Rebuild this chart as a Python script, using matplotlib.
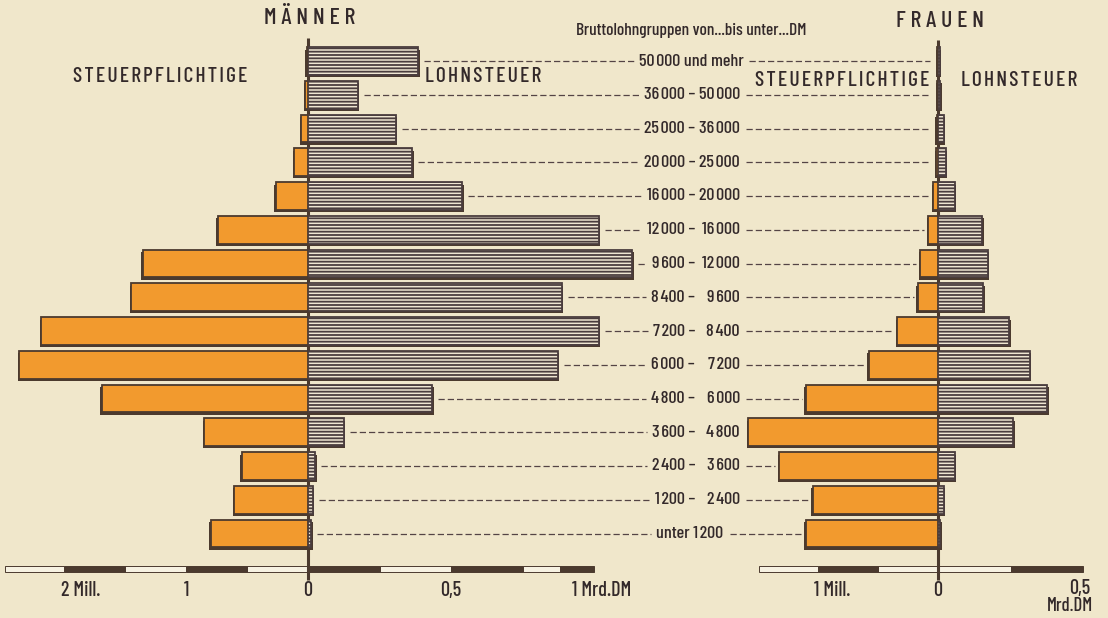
import numpy as np
import matplotlib
matplotlib.use("Agg")
import matplotlib.pyplot as plt
from matplotlib.patches import Rectangle

W, H = 1108, 618

plt.rcParams['font.family'] = ['Barlow Condensed', 'DejaVu Sans']
plt.rcParams['font.weight'] = 500
plt.rcParams['hatch.linewidth'] = 1.3

# Bruttolohngruppen (von / bis unter, DM)
lower = [50000, 36000, 25000, 20000, 16000, 12000, 9600, 8400, 7200, 6000, 4800, 3600, 2400, 1200, None]
upper = [None, 50000, 36000, 25000, 20000, 16000, 12000, 9600, 8400, 7200, 6000, 4800, 3600, 2400, 1200]

# Männer: Steuerpflichtige (Mill.), Lohnsteuer (Mrd. DM)
men_pers = [0.01, 0.025, 0.056, 0.114, 0.264, 0.739, 1.355, 1.449, 2.188, 2.367, 1.692, 0.850, 0.545, 0.607, 0.798]
men_tax = [0.385, 0.175, 0.306, 0.364, 0.54, 1.017, 1.134, 0.888, 1.017, 0.873, 0.435, 0.126, 0.025, 0.016, 0.012]
# Frauen
wom_pers = [0.006, 0.008, 0.012, 0.014, 0.038, 0.082, 0.146, 0.169, 0.338, 0.577, 1.102, 1.583, 1.321, 1.044, 1.102]
wom_tax = [0.006, 0.008, 0.02, 0.027, 0.057, 0.153, 0.171, 0.156, 0.246, 0.316, 0.377, 0.26, 0.057, 0.02, 0.008]

bg = '#f0e7cb'
orange = '#f29a2e'
dark = '#4b3a2e'
txt = '#33292a'
hatchface = '#efe6d2'
light = '#f7f2e2'

fig = plt.figure(figsize=(W / 100, H / 100), dpi=100, facecolor=bg)
base = fig.add_axes([0, 0, 1, 1])
base.set_xlim(0, W)
base.set_ylim(H, 0)
base.axis('off')

row_top, row_step = 61, 33.75
n = len(lower)
y_top = row_top - row_step / 2
y_bot = row_top + row_step * (n - 1) + row_step / 2


def add_ax(x0, x1):
    ax = fig.add_axes([x0 / W, 1 - y_bot / H, (x1 - x0) / W, (y_bot - y_top) / H])
    ax.set_ylim(n - 0.5, -0.5)
    ax.axis('off')
    ax.patch.set_alpha(0)
    return ax


def to_base(ax, x, y):
    d = ax.transData.transform((x, y))
    return base.transData.inverted().transform(d)


# px per unit
m_mill, m_mrd = 122, 286
w_mill, w_mrd = 120, 290
m0, w0 = 308, 938

ax_ml = add_ax(m0 - 2.6 * m_mill, m0)
ax_ml.set_xlim(2.6, 0)
ax_mr = add_ax(m0, m0 + 1.3 * m_mrd)
ax_mr.set_xlim(0, 1.3)
ax_wl = add_ax(w0 - 1.7 * w_mill, w0)
ax_wl.set_xlim(1.7, 0)
ax_wr = add_ax(w0, w0 + 0.55 * w_mrd)
ax_wr.set_xlim(0, 0.55)

ypos = np.arange(n)
h = 0.82
for ax, vals, px in [(ax_ml, men_pers, m_mill), (ax_wl, wom_pers, w_mill)]:
    vals = np.array(vals)
    ax.barh(ypos + 0.07, vals + 1.4 / px, height=h, color=dark, zorder=1)
    ax.barh(ypos, vals, height=h, color=orange, edgecolor=dark, linewidth=1.3, zorder=2)
for ax, vals, px in [(ax_mr, men_tax, m_mrd), (ax_wr, wom_tax, w_mrd)]:
    vals = np.array(vals)
    ax.barh(ypos + 0.07, vals + 1.4 / px, height=h, color=dark, zorder=1)
    ax.barh(ypos, vals, height=h, color=hatchface, edgecolor='#4a3d3e', hatch='-----',
            linewidth=1.3, zorder=2)

# zero axes
for ax, top in [(ax_ml, 38), (ax_wl, 40)]:
    x = to_base(ax, 0, 0)[0]
    base.plot([x, x], [top, 580], color=dark, lw=2.2, solid_capstyle='butt', zorder=5)


def scale_bar(ax, bounds, colors):
    for (a, b), c in zip(zip(bounds[:-1], bounds[1:]), colors):
        xa = to_base(ax, a, 0)[0]
        xb = to_base(ax, b, 0)[0]
        x0, x1 = min(xa, xb), max(xa, xb)
        base.add_patch(Rectangle((x0, 566), x1 - x0, 6, facecolor=c, edgecolor=dark, lw=0.7))

scale_bar(ax_ml, [0, 0.5, 1, 1.5, 2, 2.48], [light, dark, light, dark, light])
scale_bar(ax_mr, [0, 0.25, 0.5, 0.75, 0.88, 1.0], [dark, light, dark, light, dark])
scale_bar(ax_wl, [0, 0.5, 1.0, 1.49], [light, dark, light])
scale_bar(ax_wr, [0, 0.25, 0.5], [light, dark])

fs = 13
def lab(ax, v, s, dx=0, ha='center', y=590, size=14.5):
    x = to_base(ax, v, 0)[0]
    base.text(x + dx, y, s, ha=ha, va='center', fontsize=size, color=txt)

lab(ax_ml, 2, '2 Mill.', dx=-3, ha='left')
lab(ax_ml, 1, '1')
lab(ax_ml, 0, '0')
lab(ax_mr, 0.5, '0,5')
lab(ax_mr, 1, '1 Mrd.DM', dx=8)
lab(ax_wl, 1, '1 Mill.', dx=-4, ha='left')
lab(ax_wl, 0, '0')
lab(ax_wr, 0.5, '0,5', dx=-3, y=589)
lab(ax_wr, 0.5, 'Mrd.DM', dx=-13, y=606, size=13.5)

# headings
sp = '\u2009'
hs = '\u200a'
base.text(310, 18, sp.join('MÄNNER'), ha='center', va='center', fontsize=17, color=txt)
base.text(940, 21, sp.join('FRAUEN'), ha='center', va='center', fontsize=17, color=txt)
base.text(160, 76, hs.join('STEUERPFLICHTIGE'), ha='center', va='center', fontsize=15.5, color=txt)
base.text(483, 76, hs.join('LOHNSTEUER'), ha='center', va='center', fontsize=15.5, color=txt)
base.text(842, 80, hs.join('STEUERPFLICHTIGE'), ha='center', va='center', fontsize=15.5, color=txt)
base.text(1019, 80, hs.join('LOHNSTEUER'), ha='center', va='center', fontsize=15.5, color=txt)
base.text(691, 31, 'Bruttolohngruppen von...bis unter...DM', ha='center', va='center',
          fontsize=12.5, color=txt)


def fmt(v):
    return f'{v:,}'.replace(',', '\u200a')

# group labels
label_boxes = []
for i in range(n):
    y = to_base(ax_ml, 0, i)[1]
    if upper[i] is None:
        texts = [base.text(691, y, f'{fmt(lower[i])} und mehr', ha='center', va='center',
                           fontsize=fs, color=txt)]
    elif lower[i] is None:
        texts = [base.text(690, y, f'unter {fmt(upper[i])}', ha='center', va='center',
                           fontsize=fs, color=txt)]
    else:
        texts = [base.text(695, y, f'{fmt(lower[i])} –', ha='right', va='center',
                           fontsize=fs, color=txt),
                 base.text(740, y, fmt(upper[i]), ha='right', va='center',
                           fontsize=fs, color=txt)]
    label_boxes.append(texts)

fig.canvas.draw()
inv = base.transData.inverted()
dash_kw = dict(color='#544445', lw=0.9, dashes=(5.0, 2.4), zorder=3)
for i, texts in enumerate(label_boxes):
    ext = [t.get_window_extent() for t in texts]
    xl = inv.transform((min(e.x0 for e in ext), 0))[0]
    xr = inv.transform((max(e.x1 for e in ext), 0))[0]
    y = to_base(ax_ml, 0, i)[1]
    x_start = to_base(ax_mr, men_tax[i], i)[0] + 6
    if xl - 5 > x_start:
        base.plot([x_start, xl - 5], [y, y], **dash_kw)
    x_end = min(to_base(ax_wl, wom_pers[i], i)[0] - 4, to_base(ax_wl, 0, i)[0] - 8)
    if x_end > xr + 6:
        base.plot([xr + 6, x_end], [y, y], **dash_kw)

fig.savefig('out.png', dpi=100, facecolor=bg)
